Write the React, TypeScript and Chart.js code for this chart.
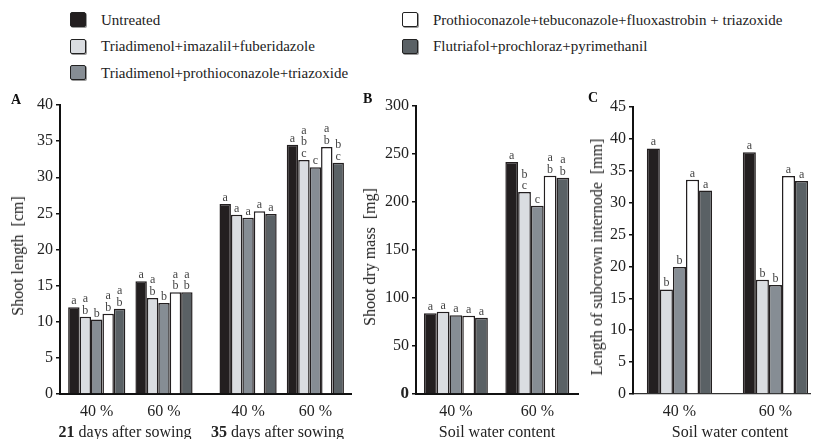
import React, { useEffect, useRef } from "react";
import { Chart, registerables } from "chart.js";
Chart.register(...registerables);

const FONT = '"Liberation Serif", "Times New Roman", serif';

const treatments = [
  "Untreated",
  "Triadimenol+imazalil+fuberidazole",
  "Triadimenol+prothioconazole+triazoxide",
  "Prothioconazole+tebuconazole+fluoxastrobin + triazoxide",
  "Flutriafol+prochloraz+pyrimethanil",
];
const fills = ["#231f20", "#dadde1", "#868d94", "#ffffff", "#5a6165"];

// Panel A – shoot length [cm]
const aLabels = ["40 %", "60 %", "40 %", "60 %"];
const aPositions = [0, 1, 2.25, 3.25];
const aValues = [
  [12.0, 15.6, 26.3, 34.5],
  [10.7, 13.3, 24.8, 32.4],
  [10.3, 12.6, 24.4, 31.4],
  [11.1, 14.1, 25.3, 34.2],
  [11.8, 14.1, 24.9, 32.0],
];
const aLetters = [
  ["a", "a", "a", "a"],
  ["ab", "ab", "a", "abc"],
  ["b", "b", "a", "c"],
  ["ab", "ab", "a", "ab"],
  ["ab", "ab", "a", "bc"],
];

// Panel B – shoot dry mass [mg]
const bLabels = ["40 %", "60 %"];
const bPositions = [0, 1];
const bValues = [
  [84, 241.7],
  [85.8, 210.4],
  [82, 196.2],
  [81.6, 227.4],
  [79.5, 225.3],
];
const bLetters = [
  ["a", "a"],
  ["a", "bc"],
  ["a", "c"],
  ["a", "ab"],
  ["a", "ab"],
];

// Panel C – length of subcrown internode [mm]
const cLabels = ["40 %", "60 %"];
const cPositions = [0, 1];
const cValues = [
  [38.5, 37.9],
  [16.4, 17.9],
  [19.9, 17.1],
  [33.6, 34.2],
  [31.9, 33.4],
];
const cLetters = [
  ["a", "a"],
  ["b", "b"],
  ["b", "b"],
  ["a", "a"],
  ["a", "a"],
];

type PanelProps = {
  left: number;
  top: number;
  width: number;
  height: number;
  padTop: number;
  padRight: number;
  yWidth: number;
  xHeight: number;
  positions: number[];
  labels: string[];
  values: number[][];
  letters: string[][];
  xMin: number;
  xMax: number;
  yMax: number;
  yStep: number;
  catPct: number;
  xBorderWidth: number;
  xBorderColor: string;
  boldZero?: boolean;
};

function lettersPlugin(letters: string[][]) {
  return {
    id: "letters",
    afterDatasetsDraw(chart: any) {
      const ctx = chart.ctx;
      ctx.save();
      ctx.font = `12px ${FONT}`;
      ctx.fillStyle = "#444";
      ctx.textAlign = "center";
      ctx.textBaseline = "alphabetic";
      chart.data.datasets.forEach((_ds: any, i: number) => {
        const meta = chart.getDatasetMeta(i);
        meta.data.forEach((el: any, j: number) => {
          const chars = (letters[i][j] || "").split("");
          for (let k = 0; k < chars.length; k++) {
            const ch = chars[chars.length - 1 - k];
            ctx.fillText(ch, el.x, el.y - 3 - k * 11.5);
          }
        });
      });
      ctx.restore();
    },
  };
}

function Panel(p: PanelProps) {
  const ref = useRef<HTMLCanvasElement>(null);
  useEffect(() => {
    const chart = new Chart(ref.current as HTMLCanvasElement, {
      type: "bar",
      data: {
        datasets: treatments.map((name, i) => ({
          label: name,
          data: p.positions.map((x, j) => ({ x, y: p.values[i][j] })),
          backgroundColor: fills[i],
          borderColor: "#231f20",
          borderWidth: 1.5,
          categoryPercentage: p.catPct,
          barPercentage: 1,
        })),
      },
      options: {
        animation: false,
        responsive: false,
        layout: { padding: { top: p.padTop, right: p.padRight, left: 0, bottom: 0 } },
        plugins: { legend: { display: false }, tooltip: { enabled: false } },
        scales: {
          x: {
            type: "linear",
            min: p.xMin,
            max: p.xMax,
            offset: false,
            afterBuildTicks: (s: any) => {
              s.ticks = p.positions.map((v) => ({ value: v }));
            },
            afterFit: (s: any) => {
              s.height = p.xHeight;
            },
            ticks: {
              autoSkip: false,
              maxRotation: 0,
              padding: 8,
              color: "#222",
              font: { family: FONT, size: 16 },
              callback: (_v: any, i: number) => p.labels[i],
            },
            grid: { display: false, drawTicks: false },
            border: { display: true, color: p.xBorderColor, width: p.xBorderWidth },
          },
          y: {
            min: 0,
            max: p.yMax,
            afterFit: (s: any) => {
              s.width = p.yWidth;
            },
            ticks: {
              stepSize: p.yStep,
              padding: 3,
              color: "#222",
              font: (c: any) =>
                p.boldZero && c.tick && c.tick.value === 0
                  ? { family: FONT, size: 17, weight: "bold" }
                  : { family: FONT, size: 16 },
            },
            grid: {
              display: true,
              drawOnChartArea: false,
              drawTicks: true,
              tickLength: 4,
              color: "#111",
              lineWidth: 1.5,
            },
            border: { display: true, color: "#111", width: 2 },
          },
        },
      } as any,
      plugins: [lettersPlugin(p.letters)],
    });
    return () => chart.destroy();
  }, []);
  return (
    <canvas
      ref={ref}
      width={p.width}
      height={p.height}
      style={{ position: "absolute", left: p.left, top: p.top, width: p.width, height: p.height }}
    />
  );
}

function abs(left: number, top: number, extra: any = {}) {
  return { position: "absolute" as const, left, top, ...extra };
}

function LegendItem({ x, y, color, text }: { x: number; y: number; color: string; text: string }) {
  return (
    <>
      <div
        style={abs(x, y - 7.5, {
          width: 16,
          height: 15,
          boxSizing: "border-box",
          background: color,
          border: "1.5px solid #222",
          borderRadius: 2,
          boxShadow: "1px 1px 0 #999",
        })}
      />
      <div style={abs(x + 31, y - 10, { fontSize: 15, lineHeight: "20px", whiteSpace: "pre", color: "#222" })}>
        {text}
      </div>
    </>
  );
}

function YTitle({ cx, cy, text }: { cx: number; cy: number; text: string }) {
  return (
    <div
      style={abs(cx, cy, {
        transform: "translate(-50%, -50%) rotate(-90deg)",
        fontSize: 16,
        whiteSpace: "pre",
        color: "#222",
        lineHeight: "18px",
      })}
    >
      {text}
    </div>
  );
}

function CenterText({ cx, cy, children, size = 16, bold = false }: any) {
  return (
    <div
      style={abs(cx, cy, {
        transform: "translate(-50%, -50%)",
        fontSize: size,
        whiteSpace: "pre",
        color: "#222",
        fontWeight: bold ? "bold" : "normal",
        lineHeight: "18px",
      })}
    >
      {children}
    </div>
  );
}

export default function App() {
  return (
    <div
      style={{
        position: "fixed",
        left: 0,
        top: 0,
        width: 817,
        height: 439,
        overflow: "hidden",
        background: "#fff",
        fontFamily: FONT,
      }}
    >
      <LegendItem x={70} y={19.5} color={fills[0]} text={treatments[0]} />
      <LegendItem x={70} y={46} color={fills[1]} text={treatments[1]} />
      <LegendItem x={70} y={72.5} color={fills[2]} text={treatments[2]} />
      <LegendItem x={402} y={19.5} color={fills[3]} text={treatments[3]} />
      <LegendItem x={402} y={46} color={fills[4]} text={treatments[4]} />

      <Panel
        left={0}
        top={90}
        width={355}
        height={349}
        padTop={15}
        padRight={4}
        yWidth={60}
        xHeight={45}
        positions={aPositions}
        labels={aLabels}
        values={aValues}
        letters={aLetters}
        xMin={-0.546}
        xMax={3.78}
        yMax={40}
        yStep={5}
        catPct={0.85}
        xBorderWidth={2}
        xBorderColor="#111"
      />
      <Panel
        left={376}
        top={90}
        width={206}
        height={349}
        padTop={16}
        padRight={4}
        yWidth={40}
        xHeight={45}
        positions={bPositions}
        labels={bLabels}
        values={bValues}
        letters={bLetters}
        xMin={-0.49}
        xMax={1.5}
        yMax={300}
        yStep={50}
        catPct={0.785}
        xBorderWidth={2}
        xBorderColor="#111"
        boldZero={true}
      />
      <Panel
        left={600}
        top={90}
        width={214}
        height={349}
        padTop={17}
        padRight={4}
        yWidth={33}
        xHeight={45}
        positions={cPositions}
        labels={cLabels}
        values={cValues}
        letters={cLetters}
        xMin={-0.484}
        xMax={1.36}
        yMax={45}
        yStep={5}
        catPct={0.68}
        xBorderWidth={1.2}
        xBorderColor="#333"
      />

      <div style={abs(11, 92, { fontSize: 14, fontWeight: "bold", color: "#111" })}>A</div>
      <div style={abs(363, 91, { fontSize: 14, fontWeight: "bold", color: "#111" })}>B</div>
      <div style={abs(588, 90, { fontSize: 14, fontWeight: "bold", color: "#111" })}>C</div>

      <YTitle cx={17.5} cy={256} text={"Shoot length  [cm]"} />
      <YTitle cx={370} cy={257} text={"Shoot dry mass  [mg]"} />
      <YTitle cx={597} cy={257} text={"Length of subcrown internode  [mm]"} />

      <CenterText cx={125} cy={431.5}>
        <b>21</b> days after sowing
      </CenterText>
      <CenterText cx={277.5} cy={431.5}>
        <b>35</b> days after sowing
      </CenterText>
      <CenterText cx={497} cy={431.5}>Soil water content</CenterText>
      <CenterText cx={730} cy={431.5}>Soil water content</CenterText>
    </div>
  );
}
